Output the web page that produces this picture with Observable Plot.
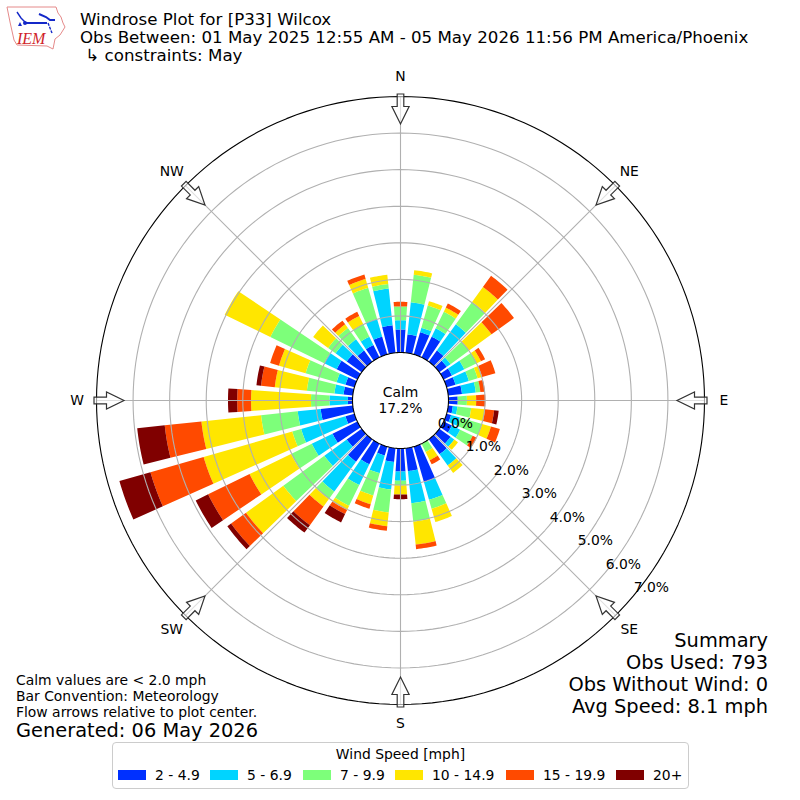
<!DOCTYPE html>
<html><head><meta charset="utf-8">
<script src="https://cdn.jsdelivr.net/npm/d3@7"></script>
<script src="https://cdn.jsdelivr.net/npm/@observablehq/plot@0.6"></script>
<style>
html,body{margin:0;padding:0;background:#fff;width:800px;height:800px;overflow:hidden;font-family:"DejaVu Sans",sans-serif;color:#000}
#chart{position:absolute;left:0;top:0}
.t{position:absolute;white-space:pre;line-height:1}
#legend{position:absolute;left:112px;top:742px;width:575px;height:45px;border:1px solid #ccc;border-radius:4px;box-sizing:content-box;background:#fff}
#legend .title{position:absolute;left:0;right:0;top:3px;text-align:center;font-size:13.9px;line-height:16px}
#legend .sw{position:absolute;top:27px;width:28px;height:10px}
#legend .lb{position:absolute;top:24px;font-size:13.9px;line-height:16px;white-space:pre}
</style></head><body>
<div id="chart"></div>
<svg style="position:absolute;left:0;top:0" width="70" height="52">
<path d="M7 7 L56 7 L58 13 L61 17 L63 23 L65 27 L60 35 L55 39 L54 44 L53 49 L47 46 L17 45 L14 40 L10 22 L9 17 Z" fill="#fff" stroke="#e58a8a" stroke-width="1"/>
<path d="M17 12 L21 18 L25 22" fill="none" stroke="#1428c8" stroke-width="1.4"/>
<path d="M25 23 L47 23" fill="none" stroke="#1428c8" stroke-width="2"/>
<path d="M39 14 L46 17 L50 20 L55 20" fill="none" stroke="#1428c8" stroke-width="2"/>
<path d="M48 23 L50 28 L52 33" fill="none" stroke="#1428c8" stroke-width="1.4" stroke-dasharray="3 1"/>
<circle cx="25" cy="23" r="2" fill="#1428c8"/><path d="M18 26 L20 22 L22 26 Z" fill="#1428c8"/>
<text x="17" y="43.5" font-family="Liberation Serif" font-style="italic" font-size="16" fill="#d0232a">IEM</text>
</svg>
<div class="t" style="left:80px;top:12px;font-size:16.67px">Windrose Plot for [P33] Wilcox</div>
<div class="t" style="left:80px;top:29.5px;font-size:16.67px">Obs Between: 01 May 2025 12:55 AM - 05 May 2026 11:56 PM America/Phoenix</div>
<div class="t" style="left:80px;top:47.5px;font-size:16.67px"> ↳ constraints: May</div>
<div class="t" style="left:16px;top:673.5px;font-size:13.9px">Calm values are &lt; 2.0 mph</div>
<div class="t" style="left:16px;top:689.5px;font-size:13.9px">Bar Convention: Meteorology</div>
<div class="t" style="left:16px;top:705.5px;font-size:13.9px">Flow arrows relative to plot center.</div>
<div class="t" style="left:16px;top:720.5px;font-size:19.4px">Generated: 06 May 2026</div>
<div class="t" style="right:32px;top:630.5px;font-size:19.4px">Summary</div>
<div class="t" style="right:32px;top:652.5px;font-size:19.4px">Obs Used: 793</div>
<div class="t" style="right:32px;top:674.5px;font-size:19.4px">Obs Without Wind: 0</div>
<div class="t" style="right:32px;top:696.5px;font-size:19.4px">Avg Speed: 8.1 mph</div>
<div id="legend"><div class="title">Wind Speed [mph]</div></div>
<script>
const directions = d3.range(0, 360, 10);
const speedLabels = ["2 - 4.9","5 - 6.9","7 - 9.9","10 - 14.9","15 - 19.9","20+"];
const speedColors = ["#0030ff","#00d4ff","#7dff7a","#ffe600","#ff4a00","#800000"];
const obsUsed = 793;
const speed2to5  = [5,4,5,5,3,2,2,2,3,2,1,1,2,3,4,0,8,5,5,3,2,5,6,4,6,2,7,1,2,2,5,4,3,3,4,6];
const speed5to7  = [2,7,1,2,7,1,3,3,3,0,1,2,2,1,3,0,4,7,2,6,4,5,8,6,5,10,5,4,2,2,3,3,3,2,4,8];
const speed7to10 = [3,6,5,4,6,5,3,2,1,2,3,5,3,0,0,2,2,4,1,5,5,5,2,11,5,2,8,4,6,7,13,2,3,3,7,1];
const speed10to15= [0,1,1,1,4,6,1,1,0,2,3,2,0,1,2,2,3,5,2,3,2,1,2,10,10,20,13,13,7,6,11,4,1,2,2,2];
const speed15to20= [1,0,0,1,3,6,1,3,1,2,2,2,1,0,0,1,0,1,0,1,1,1,5,4,10,12,8,3,3,2,0,0,1,1,1,0];
const speed20up  = [0,0,0,0,0,0,0,0,0,0,1,0,0,0,0,0,0,0,1,0,0,2,2,1,3,7,6,2,1,0,0,0,0,0,0,0];
const speedSeries = [speed2to5,speed5to7,speed7to10,speed10to15,speed15to20,speed20up];
const ringTicks = [0,1,2,3,4,5,6,7];
const compass = [["N",0],["NE",45],["E",90],["SE",135],["S",180],["SW",225],["W",270],["NW",315]];

const RMAX = 7;             // percent at outer circle
const u = 256/RMAX;         // px per percent
const origin = 48/u;        // radial origin offset (calm circle)
const R = 400/u;
const rad = d => d*Math.PI/180;
const px = (p,a) => (origin+p)*Math.sin(rad(a));
const py = (p,a) => (origin+p)*Math.cos(rad(a));

const wedges = [];
directions.forEach((dir,i)=>{
  let base = 0;
  speedSeries.forEach((s,k)=>{
    const top = base + s[i]*100/obsUsed;
    if (s[i]>0) {
      const id = dir+"-"+k;
      const pts = [];
      for (let a=-4;a<=4;a++) pts.push({id,speed:speedLabels[k],x:px(base,dir+a),y:py(base,dir+a)});
      for (let a=4;a>=-4;a--) pts.push({id,speed:speedLabels[k],x:px(top,dir+a),y:py(top,dir+a)});
      wedges.push(...pts);
    }
    base = top;
  });
});
const circle = p => d3.range(0,360,2).map(a=>({p,x:px(p,a),y:py(p,a)}));
const grayRings = ringTicks.filter(p=>p>0&&p<RMAX).flatMap(circle);
const blackRings = [0,RMAX].flatMap(circle);

const arrowShape = {draw(ctx,l){
  const hw=8.6, sw=3.3, head=17.5;
  ctx.moveTo(-sw,0);ctx.lineTo(-sw,-(l-head));ctx.lineTo(-hw,-(l-head));
  ctx.lineTo(0,-l);ctx.lineTo(hw,-(l-head));ctx.lineTo(sw,-(l-head));ctx.lineTo(sw,0);ctx.closePath();
}};

const plot = Plot.plot({
  width:800,height:800,margin:0,
  x:{axis:null,domain:[-R,R]},
  y:{axis:null,domain:[-R,R]},
  color:{type:"ordinal",domain:speedLabels,range:speedColors},
  style:{fontFamily:"DejaVu Sans",background:"#fff",color:"#000"},
  marks:[
    Plot.line(wedges,{x:"x",y:"y",z:"id",fill:"speed",stroke:"none",curve:"linear-closed"}),
    Plot.line(grayRings,{x:"x",y:"y",z:"p",stroke:"#b0b0b0",strokeWidth:1.1,curve:"linear-closed"}),
    Plot.link(compass,{x1:d=>px(0,d[1]),y1:d=>py(0,d[1]),x2:d=>px(RMAX,d[1]),y2:d=>py(RMAX,d[1]),stroke:"#b0b0b0",strokeWidth:1.1}),
    Plot.line(blackRings,{x:"x",y:"y",z:"p",stroke:"#000",strokeWidth:1.1,curve:"linear-closed"}),
    Plot.vector(compass,{x:d=>px(RMAX+2.5/u,d[1]),y:d=>py(RMAX+2.5/u,d[1]),rotate:d=>d[1]+180,length:30,anchor:"start",shape:arrowShape,
      fill:"#fff",fillOpacity:0.6,stroke:"#333",strokeWidth:1.2,strokeLinejoin:"miter"}),
    Plot.text(compass,{x:d=>px(RMAX+19.5/u,d[1]),y:d=>py(RMAX+19.5/u,d[1]),text:d=>d[0],fontSize:13.9,fill:"#000"}),
    Plot.text(ringTicks,{x:d=>px(d,130),y:d=>py(d,130),text:d=>d.toFixed(1)+"%",dx:18,dy:-8,fontSize:13.9,fill:"#000"}),
    Plot.text(["Calm\n17.2%"],{x:()=>0,y:()=>0,text:d=>d,fontSize:13.9,lineHeight:1.1,dy:-0.5,fill:"#000"})
  ]
});
document.getElementById("chart").append(plot);

const legendX = [[5,42],[97,134],[190,227],[282,319],[393,430],[503,540]];
const lg = document.getElementById("legend");
speedLabels.forEach((s,i)=>{
  const a=document.createElement("div");a.className="sw";a.style.left=legendX[i][0]+"px";a.style.background=speedColors[i];lg.append(a);
  const b=document.createElement("div");b.className="lb";b.style.left=legendX[i][1]+"px";b.textContent=s;lg.append(b);
});
</script>
</body></html>
